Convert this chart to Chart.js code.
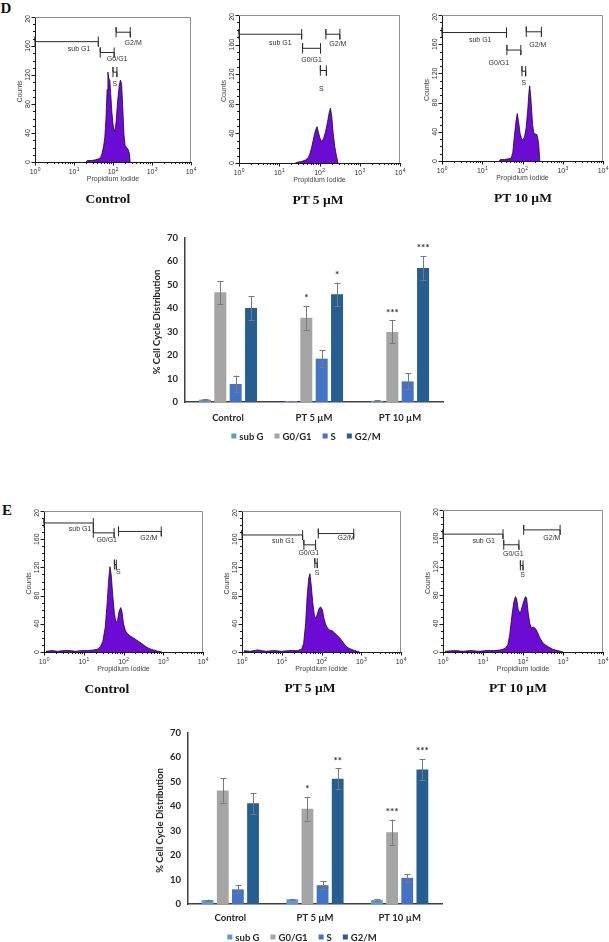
<!DOCTYPE html>
<html>
<head>
<meta charset="utf-8">
<script src="https://cdn.jsdelivr.net/npm/chart.js@4.4.1/dist/chart.umd.min.js"></script>
<style>
html,body{margin:0;padding:0;background:#fff}
#page{position:relative;width:609px;height:942px;overflow:hidden;background:#fff}
#page canvas{position:absolute;left:0;top:0}
.t{position:absolute;font-family:"Liberation Serif","Times New Roman",serif;font-weight:bold;color:#111;white-space:nowrap;line-height:1;transform:translate(-50%,-50%)}
</style>
</head>
<body>
<div id="page"></div>
<script>
// ---------------- DATA ----------------
const panelLetters = ['D', 'E'];
const histTitles = ['Control', 'PT 5 µM', 'PT 10 µM'];
const histXTicks = [1, 10, 100, 1000, 10000];
const histXTickExp = ['0', '1', '2', '3', '4'];
const histYTicks = [0, 40, 80, 120, 160, 200];
const histYTickLabels = ['0', '40', '80', '120', '160', '20'];
const histXTitle = 'Propidium Iodide';
const histYTitle = 'Counts';
const gateNames = ['sub G1', 'G0/G1', 'G2/M', 'S'];

// Panel D histograms (PI intensity, counts)
const dCtrlPI = [20,21.9,28.2,35.5,41.7,47.9,52.5,57.5,61.7,66.1,70.8,74.1,77.6,83.2,87.1,93.3,100,107,112,120,132,145,155,166,178,191,204,224,245,263,275];
const dCtrlCounts = [0,2,2,3,4,6,12,22,34,60,100,124,116,112,95,70,52,44,42,55,85,106,113,108,75,38,23,20,17,12,0];
const dPT5PI = [25.1,28.2,35.5,44.7,52.5,57.5,63.1,69.2,75.9,83.2,87.1,93.3,102,112,126,141,158,174,186,200,219,240,263,288];
const dPT5Counts = [0,1,2,4,7,12,20,30,40,47,49,42,34,29,33,42,55,68,74,65,40,22,10,0];
const dPT10PI = [26.3,28.2,35.5,44.7,52.5,57.5,63.1,69.2,74.1,79.4,87.1,95.5,102,112,123,135,145,151,162,178,191,209,229,251,269];
const dPT10Counts = [0,2,2,3,4,12,35,55,65,55,38,30,29,33,45,70,95,103,85,50,38,37,36,25,0];

// Panel E histograms
const eCtrlPI = [1.12,1.58,2.24,3.16,4.47,6.31,8.91,12.6,17.8,22.4,26.3,30.2,34.7,38.9,42.7,45.7,49,53.7,58.9,64.6,70.8,77.6,85.1,91.2,100,112,126,145,166,200,240,288,355,437,562,741,933];
const eCtrlCounts = [1,2,1,2,2,1,2,2,3,4,8,15,35,70,105,121,110,80,55,42,45,58,63,58,40,30,26,23,21,18,15,12,8,5,3,1,0];
const ePT5PI = [1.12,1.58,2.51,3.98,6.31,10,15.8,25.1,31.6,35.5,39.8,43.7,47.9,51.3,55,60.3,66.1,72.4,79.4,87.1,95.5,105,115,126,141,162,186,214,251,288,347,417,501,617,794,912];
const ePT5Counts = [2,1,3,1,2,1,2,2,4,12,40,80,105,111,95,70,52,47,55,62,64,60,48,40,34,31,30,27,23,20,14,8,5,3,1,0];
const ePT10PI = [1.12,2.0,3.16,5.01,7.94,12.6,20,28.2,35.5,41.7,46.8,52.5,58.9,64.6,69.2,75.9,85.1,93.3,105,115,123,135,148,162,182,204,229,263,302,363,437,550,724,1000];
const ePT10Counts = [1,2,1,2,1,2,2,3,5,10,25,50,70,78,75,60,54,62,72,78,76,55,40,34,35,33,28,20,14,10,7,4,2,0];

// Gates [from PI, to PI, count level], order = gateNames
const dCtrlGates = [[1,42,166],[47,107,151],[120,277,179],[100,126,124]];
const dPT5Gates  = [[1,36,174],[38,106,155],[144,321,174],[105,148,125]];
const dPT10Gates = [[1,40,176],[41,91,152],[124,295,177],[97,120,123]];
const eCtrlGates = [[1,17.4,183],[17.4,58,169],[75,891,171],[59,66,124]];
const ePT5Gates  = [[1,33.5,166],[36,71,152],[83,646,168],[68,78,126]];
const ePT10Gates = [[1,31.6,166],[33,79,151],[104,846,172],[86,100,122]];

// Bar charts
const barCategories = ['Control', 'PT 5 µM', 'PT 10 µM'];
const phaseLabels = ['sub G', 'G0/G1', 'S', 'G2/M'];
const barYTitle = '% Cell Cycle Distribution';

const dSubG = [1.0, 0.4, 0.5];     const dSubGErr = [0.3, 0.1, 0.2];
const dG0G1 = [46.8, 36.0, 29.9];  const dG0G1Err = [4.9, 5.1, 4.9];
const dS    = [7.7, 18.5, 8.8];    const dSErr    = [3.6, 3.5, 3.4];
const dG2M  = [40.1, 46.0, 57.2];  const dG2MErr  = [5.0, 5.0, 5.0];
const dSubGSig = ['', '', ''];  const dG0G1Sig = ['', '*', '***'];
const dSSig    = ['', '', ''];  const dG2MSig  = ['', '*', '***'];

const eSubG = [1.6, 1.9, 1.6];     const eSubGErr = [0.2, 0.2, 0.3];
const eG0G1 = [46.5, 39.0, 29.4];  const eG0G1Err = [5.0, 4.9, 5.1];
const eS    = [6.0, 7.7, 10.7];    const eSErr    = [1.6, 1.7, 1.6];
const eG2M  = [41.2, 51.3, 55.1];  const eG2MErr  = [4.3, 4.2, 4.2];
const eSubGSig = ['', '', ''];  const eG0G1Sig = ['', '*', '***'];
const eSSig    = ['', '', ''];  const eG2MSig  = ['', '**', '***'];

// ---------------- LAYOUT / STYLE ----------------
const W = 609, H = 942;
const phaseColors = ['#5B9BD5', '#A5A5A5', '#4472C4', '#255E91'];
const histFill = '#6c0bd3', histLine = '#1e0040';
const page = document.getElementById('page');

function addText(txt, x, y, size) {
  const d = document.createElement('div');
  d.className = 't'; d.textContent = txt;
  d.style.left = x + 'px'; d.style.top = y + 'px'; d.style.fontSize = size + 'px';
  page.appendChild(d);
}
function newCanvas() {
  const c = document.createElement('canvas');
  c.width = W; c.height = H; c.style.width = W + 'px'; c.style.height = H + 'px';
  page.appendChild(c);
  return c.getContext('2d');
}

addText(panelLetters[0], 6, 8, 15);
addText(panelLetters[1], 7, 510, 15);

const CAP = 7; // gate end-cap half height (counts)
function gatePath(g) {
  const [x1, x2, y] = g;
  return [{x:x1,y:y-CAP},{x:x1,y:y+CAP},{x:x1,y:y},{x:x2,y:y},{x:x2,y:y-CAP},{x:x2,y:y+CAP}];
}

function makeHistDecor(cfg) {
  return {
    id: 'histDecor',
    afterDraw(chart) {
      const ctx = chart.ctx, xs = chart.scales.x, ys = chart.scales.y, a = chart.chartArea;
      ctx.save();
      // top / right frame
      ctx.lineWidth = 1; ctx.strokeStyle = '#8f8f8f';
      ctx.beginPath();
      ctx.moveTo(a.left, a.top + 0.5); ctx.lineTo(a.right - 0.5, a.top + 0.5); ctx.lineTo(a.right - 0.5, a.bottom);
      ctx.stroke();
      // ticks
      ctx.strokeStyle = '#1a1a1a';
      ctx.beginPath();
      const yMin = histYTicks[0], yMax = histYTicks[histYTicks.length - 1];
      for (let v = yMin; v <= yMax; v += 10) {
        const y = Math.round(ys.getPixelForValue(v)) + 0.5;
        const len = histYTicks.includes(v) ? 3.5 : 2;
        ctx.moveTo(a.left - len, y); ctx.lineTo(a.left, y);
      }
      for (let k = 0; k < histXTicks.length; k++) {
        const mMax = k < histXTicks.length - 1 ? 9 : 1;
        for (let m = 1; m <= mMax; m++) {
          const x = Math.round(xs.getPixelForValue(histXTicks[k] * m)) + 0.5;
          const len = m === 1 ? 3.5 : 2;
          ctx.moveTo(x, a.bottom); ctx.lineTo(x, a.bottom + len);
        }
      }
      ctx.stroke();
      // y tick labels (rotated)
      ctx.fillStyle = '#333';
      ctx.font = '7px "Liberation Sans", Arial, sans-serif';
      ctx.textAlign = 'center'; ctx.textBaseline = 'middle';
      histYTicks.forEach((v, i) => {
        const lab = histYTickLabels[i];
        const w = ctx.measureText(lab).width;
        let y = ys.getPixelForValue(v);
        y = Math.max(y, a.top - 2 + w / 2);
        ctx.save(); ctx.translate(a.left - 7, y); ctx.rotate(-Math.PI / 2); ctx.fillText(lab, 0, 0); ctx.restore();
      });
      // x tick labels with superscripts
      histXTicks.forEach((v, i) => {
        const x = xs.getPixelForValue(v);
        ctx.font = '7px "Liberation Sans", Arial, sans-serif';
        const w1 = ctx.measureText('10').width;
        ctx.font = '5px "Liberation Sans", Arial, sans-serif';
        const w2 = ctx.measureText(histXTickExp[i]).width;
        const x0 = x - (w1 + w2) / 2;
        ctx.textAlign = 'left'; ctx.textBaseline = 'middle';
        ctx.font = '7px "Liberation Sans", Arial, sans-serif';
        ctx.fillText('10', x0, a.bottom + 10.5);
        ctx.font = '5px "Liberation Sans", Arial, sans-serif';
        ctx.fillText(histXTickExp[i], x0 + w1 + 0.3, a.bottom + 7.5);
      });
      // axis titles
      ctx.font = '7px "Liberation Sans", Arial, sans-serif';
      ctx.fillStyle = '#444';
      ctx.textAlign = 'center'; ctx.textBaseline = 'middle';
      ctx.fillText(histXTitle, (a.left + a.right) / 2, a.bottom + 17.5);
      ctx.save(); ctx.translate(a.left - 15, (a.top + a.bottom) / 2 + 2); ctx.rotate(-Math.PI / 2);
      ctx.fillText(histYTitle, 0, 0); ctx.restore();
      // gate labels
      ctx.fillStyle = '#333';
      cfg.gates.forEach((g, i) => {
        const px1 = xs.getPixelForValue(g[0]), px2 = xs.getPixelForValue(g[1]), py = ys.getPixelForValue(g[2]);
        const [dx, dy] = cfg.labelOff[i];
        if (i === 0) { ctx.textAlign = 'right'; ctx.fillText(gateNames[i], px2 + dx, py + dy); }
        else { ctx.textAlign = 'center'; ctx.fillText(gateNames[i], (px1 + px2) / 2 + dx, py + dy); }
      });
      ctx.restore();
    }
  };
}

function histChart(cfg) {
  const ctx = newCanvas();
  const r = cfg.rect;
  const datasets = [{
    data: cfg.pi.map((x, i) => ({x: x, y: cfg.counts[i]})),
    fill: 'origin', backgroundColor: histFill, borderColor: histLine, borderWidth: 0.8,
    pointRadius: 0, tension: 0
  }];
  cfg.gates.forEach(g => datasets.push({
    data: gatePath(g), fill: false, borderColor: '#2a2a2a', borderWidth: 1, pointRadius: 0, tension: 0, clip: 6
  }));
  new Chart(ctx, {
    type: 'line',
    data: {datasets},
    options: {
      responsive: false, animation: false, events: [],
      layout: {padding: {left: r.l, top: r.t, right: W - r.r, bottom: H - r.b}},
      plugins: {legend: {display: false}, tooltip: {enabled: false}},
      scales: {
        x: {type: 'logarithmic', min: histXTicks[0], max: histXTicks[histXTicks.length - 1],
            grid: {display: false, drawTicks: false}, ticks: {display: false},
            border: {display: true, color: '#1a1a1a', width: 1},
            afterFit: s => { s.height = 0; }},
        y: {type: 'linear', min: histYTicks[0], max: histYTicks[histYTicks.length - 1],
            grid: {display: false, drawTicks: false}, ticks: {display: false},
            border: {display: true, color: '#1a1a1a', width: 1},
            afterFit: s => { s.width = 0; }}
      }
    },
    plugins: [makeHistDecor(cfg)]
  });
  addText(cfg.title, cfg.titlePos[0], cfg.titlePos[1], 13.5);
}

histChart({pi: dCtrlPI, counts: dCtrlCounts, gates: dCtrlGates, title: histTitles[0],
  rect: {l:35, t:17, r:191, b:162}, titlePos: [108, 199],
  labelOff: [[-8, 7], [10, 7], [10, 11], [0, 12]]});
histChart({pi: dPT5PI, counts: dPT5Counts, gates: dPT5Gates, title: histTitles[1],
  rect: {l:239, t:15, r:400, b:163}, titlePos: [318, 200],
  labelOff: [[-10, 9], [0, 12], [5, 10], [-2, 19]]});
histChart({pi: dPT10PI, counts: dPT10Counts, gates: dPT10Gates, title: histTitles[2],
  rect: {l:442, t:15, r:603, b:161}, titlePos: [523, 198],
  labelOff: [[-15, 8], [-15, 13], [4, 13], [0, 12]]});
histChart({pi: eCtrlPI, counts: eCtrlCounts, gates: eCtrlGates, title: histTitles[0],
  rect: {l:44, t:511, r:203, b:652}, titlePos: [107, 689],
  labelOff: [[-2, 6], [3, 7], [9, 7], [3, 7]]});
histChart({pi: ePT5PI, counts: ePT5Counts, gates: ePT5Gates, title: histTitles[1],
  rect: {l:242, t:511, r:401, b:652}, titlePos: [310, 688],
  labelOff: [[-8, 6], [-1, 8], [10, 5], [1, 10]]});
histChart({pi: ePT10PI, counts: ePT10Counts, gates: ePT10Gates, title: histTitles[2],
  rect: {l:443, t:510, r:603, b:652}, titlePos: [518, 688],
  labelOff: [[-8, 7], [2, 9], [10, 8], [1, 10]]});

// ---------------- BAR CHARTS ----------------
const barFont = {family: 'Lato, "Open Sans", sans-serif', weight: 'bold', size: 9.5};
const barTextColor = '#262626';
const Y_GUTTER = 30, X_GUTTER = 22;

function makeBarExtras(cfg) {
  return {
    id: 'barExtras',
    afterDatasetsDraw(chart) {
      const ctx = chart.ctx, ys = chart.scales.y, a = chart.chartArea;
      ctx.save();
      chart.data.datasets.forEach((ds, i) => {
        const meta = chart.getDatasetMeta(i);
        meta.data.forEach((bar, j) => {
          const v = ds.data[j], e = ds.errors[j];
          const yt = ys.getPixelForValue(v + e), yb = ys.getPixelForValue(Math.max(0, v - e));
          const x = Math.round(bar.x) + 0.5;
          ctx.strokeStyle = '#7a7a7a'; ctx.lineWidth = 1;
          ctx.beginPath();
          ctx.moveTo(x, yt); ctx.lineTo(x, yb);
          ctx.moveTo(x - 3, Math.round(yt) + 0.5); ctx.lineTo(x + 3, Math.round(yt) + 0.5);
          ctx.moveTo(x - 3, Math.round(yb) + 0.5); ctx.lineTo(x + 3, Math.round(yb) + 0.5);
          ctx.stroke();
          const s = ds.sig[j];
          if (s) {
            ctx.fillStyle = '#333'; ctx.font = 'bold 10px Lato, sans-serif';
            ctx.textAlign = 'center'; ctx.textBaseline = 'middle';
            ctx.fillText(s, bar.x, yt - 8);
          }
        });
      });
      // y axis title
      ctx.fillStyle = barTextColor;
      ctx.font = 'bold 9.5px Lato, sans-serif';
      ctx.textAlign = 'center'; ctx.textBaseline = 'middle';
      ctx.save(); ctx.translate(a.left - 28, (a.top + a.bottom) / 2 + 2); ctx.rotate(-Math.PI / 2);
      ctx.fillText(barYTitle, 0, 0); ctx.restore();
      // legend
      const sq = 5, gap = 3, sp = 11;
      let total = 0;
      const widths = chart.data.datasets.map(ds => ctx.measureText(ds.label).width);
      widths.forEach(w => total += sq + gap + w);
      total += sp * (widths.length - 1);
      let x = cfg.legendX - total / 2;
      ctx.textAlign = 'left';
      chart.data.datasets.forEach((ds, i) => {
        ctx.fillStyle = ds.backgroundColor;
        ctx.fillRect(x, cfg.legendY - sq / 2, sq, sq);
        ctx.fillStyle = barTextColor;
        ctx.fillText(ds.label, x + sq + gap, cfg.legendY + 0.5);
        x += sq + gap + widths[i] + sp;
      });
      ctx.restore();
    }
  };
}

function barChart(cfg) {
  const ctx = newCanvas();
  const r = cfg.rect;
  const datasets = cfg.series.map((s, i) => ({
    label: phaseLabels[i], data: s.v, errors: s.e, sig: s.sig,
    backgroundColor: phaseColors[i], borderWidth: 0,
    barPercentage: 0.78, categoryPercentage: 0.715
  }));
  new Chart(ctx, {
    type: 'bar',
    data: {labels: barCategories, datasets},
    options: {
      responsive: false, animation: false, events: [],
      layout: {padding: {left: r.l - Y_GUTTER, top: r.t, right: W - r.r, bottom: H - r.b - X_GUTTER}},
      plugins: {legend: {display: false}, tooltip: {enabled: false}},
      scales: {
        x: {grid: {display: false, drawTicks: false},
            border: {display: true, color: '#404040', width: 1.5},
            ticks: {font: barFont, color: barTextColor, padding: cfg.xPad, maxRotation: 0, autoSkip: false},
            afterFit: s => { s.height = X_GUTTER; }},
        y: {min: 0, max: 70,
            grid: {display: false, drawTicks: false},
            border: {display: true, color: '#404040', width: 1.5},
            ticks: {font: barFont, color: barTextColor, padding: 7, stepSize: 10, autoSkip: false},
            afterFit: s => { s.width = Y_GUTTER; }}
      }
    },
    plugins: [makeBarExtras(cfg)]
  });
}

barChart({
  rect: {l:185, t:238, r:443, b:402}, legendX: 306, legendY: 436, xPad: 10,
  series: [
    {v: dSubG, e: dSubGErr, sig: dSubGSig},
    {v: dG0G1, e: dG0G1Err, sig: dG0G1Sig},
    {v: dS, e: dSErr, sig: dSSig},
    {v: dG2M, e: dG2MErr, sig: dG2MSig}
  ]
});
barChart({
  rect: {l:188, t:733, r:442, b:904}, legendX: 302, legendY: 937, xPad: 8,
  series: [
    {v: eSubG, e: eSubGErr, sig: eSubGSig},
    {v: eG0G1, e: eG0G1Err, sig: eG0G1Sig},
    {v: eS, e: eSErr, sig: eSSig},
    {v: eG2M, e: eG2MErr, sig: eG2MSig}
  ]
});
</script>
</body>
</html>
